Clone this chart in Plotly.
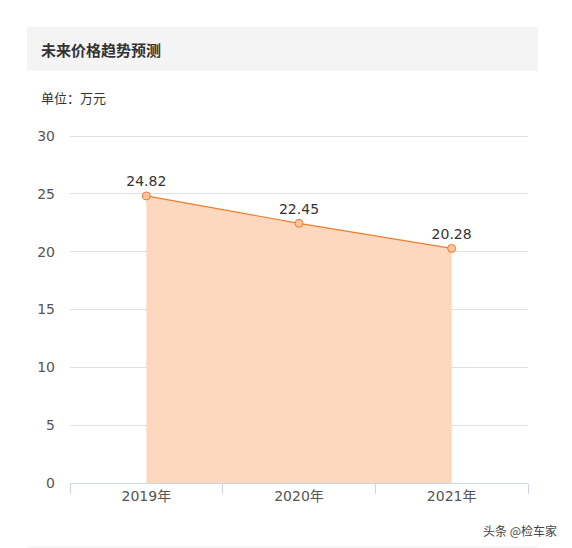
import plotly.graph_objects as go

# chart data
years = ["2019年", "2020年", "2021年"]
prices = [24.82, 22.45, 20.28]
y_ticks = [0, 5, 10, 15, 20, 25, 30]

W, H = 572, 548
OFF = 8  # default body margin of the page
Y_TOP = 30.26  # a little headroom so the 30 grid line is drawn
L, R, T, B = 70 - OFF, 44 + OFF, 133 - OFF, 65 + OFF
PW, PH = W - L - R, H - T - B

FONT = "DejaVu Sans, Noto Sans CJK SC, sans-serif"
CJK = "Noto Sans CJK SC, sans-serif"


def px_x(x):
    return (x - OFF - L) / PW


def px_y(y):
    return (H - B - (y - OFF)) / PH


fig = go.Figure()
fig.add_trace(go.Scatter(
    x=years, y=prices, mode="lines+markers+text",
    fill="tozeroy", fillcolor="rgba(253,216,191,1)",
    line=dict(color="#f07c2c", width=1.2),
    marker=dict(size=8, color="#fbc49c", line=dict(color="#f07c2c", width=1)),
    text=[f"{v:.2f}" for v in prices], textposition="top center",
    textfont=dict(family=FONT, size=14, color="#333333"),
    hoverinfo="x+y", showlegend=False,
))

fig.update_layout(
    width=W, height=H,
    margin=dict(l=L, r=R, t=T, b=B),
    paper_bgcolor="white", plot_bgcolor="white",
    font=dict(family=FONT, color="#555555"),
    shapes=[
        dict(type="rect", xref="paper", yref="paper",
             x0=px_x(27), x1=px_x(538), y0=px_y(71), y1=px_y(27),
             fillcolor="#f4f4f4", line=dict(width=0), layer="below"),
        dict(type="line", xref="paper", yref="paper",
             x0=px_x(27), x1=px_x(538), y0=px_y(547), y1=px_y(547),
             line=dict(color="#eeeeee", width=1)),
    ],
    annotations=[
        dict(text="<b>未来价格趋势预测</b>", xref="paper", yref="paper",
             x=px_x(39), y=px_y(49), xanchor="left", yanchor="middle",
             showarrow=False, font=dict(family=CJK, size=15, color="#333333")),
        dict(text="单位：万元", xref="paper", yref="paper",
             x=px_x(39), y=px_y(97), xanchor="left", yanchor="middle",
             showarrow=False, font=dict(family=CJK, size=13, color="#333333")),
        dict(text="头条 @检车家", xref="paper", yref="paper",
             x=px_x(559), y=px_y(530), xanchor="right", yanchor="middle",
             showarrow=False, font=dict(family=CJK, size=12, color="#444444")),
    ],
)

fig.update_xaxes(
    type="category", range=[-0.5, 2.5],
    showline=True, linecolor="#ccd6eb", linewidth=1,
    ticks="outside", tickson="boundaries", ticklen=10, tickcolor="#ccd6eb",
    showgrid=False, tickfont=dict(family=FONT, size=14, color="#555555"),
)
fig.update_yaxes(
    range=[0, Y_TOP], tickvals=y_ticks,
    showgrid=True, gridcolor="#e0e0e0", gridwidth=1,
    zeroline=False, showline=False, ticks="", ticklabelstandoff=14,
    tickfont=dict(family=FONT, size=14, color="#555555"),
)

fig.write_html("out.html")
